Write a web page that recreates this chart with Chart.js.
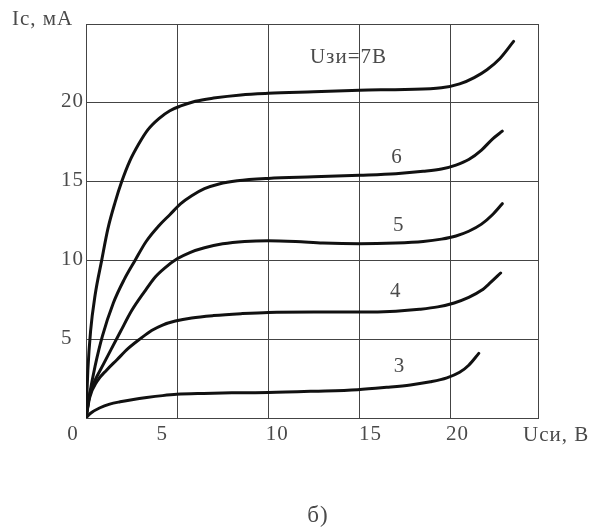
<!DOCTYPE html>
<html><head><meta charset="utf-8">
<script src="https://cdn.jsdelivr.net/npm/chart.js@4"></script>
<style>html,body{margin:0;padding:0;background:#fff}#wrap{width:591px;height:531px;position:relative}</style>
</head><body><div id="wrap"><canvas id="c" width="591" height="531"></canvas></div>
<script>
// ---- data (Uси in V, Iс in mA) ----
const x7 = [0, 0.1, 0.25, 0.5, 0.86, 1.2, 1.6, 1.96, 2.4, 2.9, 3.4, 4.0, 4.6, 5.2, 6.0, 7.0, 8.5, 10, 12.5, 15, 17.5, 19.5, 20.5, 21.3, 22, 22.7, 23.46];
const y7 = [0, 3.0, 5.5, 7.8, 10.0, 12.0, 13.7, 15.0, 16.3, 17.4, 18.3, 19.0, 19.5, 19.8, 20.1, 20.3, 20.5, 20.6, 20.7, 20.8, 20.85, 20.95, 21.2, 21.6, 22.1, 22.8, 23.9];
const x6 = [0, 0.2, 0.5, 0.9, 1.5, 2.1, 2.69, 3.3, 4.0, 4.6, 5.2, 5.8, 6.5, 7.3, 8.3, 10, 12.5, 15, 17, 18.5, 19.5, 20.3, 21, 21.7, 22.3, 22.84];
const y6 = [0, 1.5, 3.3, 5.2, 7.3, 8.8, 10.0, 11.2, 12.2, 12.9, 13.6, 14.1, 14.55, 14.85, 15.05, 15.2, 15.3, 15.4, 15.5, 15.65, 15.8, 16.05, 16.4, 17.0, 17.7, 18.2];
const x5 = [0, 0.22, 0.5, 0.95, 1.4, 1.9, 2.5, 3.2, 3.8, 4.3, 5.0, 5.7, 6.5, 7.5, 8.7, 10, 11.5, 13, 15, 17, 18.5, 19.5, 20.3, 21, 21.7, 22.3, 22.84];
const y5 = [0, 1.6, 2.4, 3.4, 4.4, 5.5, 6.8, 8.0, 8.95, 9.5, 10.1, 10.5, 10.8, 11.05, 11.2, 11.25, 11.2, 11.1, 11.05, 11.1, 11.2, 11.35, 11.55, 11.85, 12.3, 12.9, 13.6];
const x4 = [0, 0.2, 0.59, 1.14, 1.7, 2.3, 3.0, 3.6, 4.2, 4.9, 5.8, 7, 8.5, 10, 12.5, 15, 17, 18.3, 19.3, 20.2, 21, 21.7, 22.2, 22.75];
const y4 = [0, 1.3, 2.3, 3.05, 3.7, 4.4, 5.05, 5.55, 5.9, 6.15, 6.35, 6.5, 6.62, 6.7, 6.72, 6.72, 6.78, 6.9, 7.05, 7.3, 7.65, 8.1, 8.6, 9.2];
const x3 = [0, 0.25, 0.77, 1.3, 1.87, 2.6, 3.33, 4.2, 4.98, 6.45, 8, 10, 12.5, 14.9, 16.5, 17.8, 18.9, 19.8, 20.5, 21.0, 21.55];
const y3 = [0, 0.3, 0.65, 0.88, 1.03, 1.18, 1.3, 1.42, 1.5, 1.56, 1.6, 1.62, 1.7, 1.8, 1.95, 2.1, 2.3, 2.55, 2.9, 3.35, 4.1];

const xTicks = [5, 10, 15, 20];
const yTicks = [5, 10, 15, 20];
const curveLabels = ['Uзи=7В', '6', '5', '4', '3'];
const curveLabelX = [14.4, 17.07, 17.16, 17.0, 17.2];
const curveLabelY = [22.85, 16.5, 12.2, 8.0, 3.25];
const yTitle = 'Iс, мА';
const xTitle = 'Uси, В';
const caption = 'б)';

// ---- chart ----
const pts = (xs, ys) => xs.map((v, i) => ({x: v, y: ys[i]}));
const series = [[x7, y7], [x6, y6], [x5, y5], [x4, y4], [x3, y3]];
const TXT = '#4a4a4a';
const FONT = '21px "Liberation Serif"';
const xNudge = [-15, 9, 11, 7];

const textPlugin = {
  id: 'texts',
  afterDraw(chart) {
    const ctx = chart.ctx, xs = chart.scales.x, ys = chart.scales.y, a = chart.chartArea;
    ctx.save();
    ctx.fillStyle = TXT;
    ctx.font = FONT;
    try { ctx.letterSpacing = '1px'; } catch (e) {}
    ctx.textBaseline = 'middle';
    ctx.textAlign = 'center';
    xTicks.forEach((v, i) => ctx.fillText(String(v), xs.getPixelForValue(v) + xNudge[i], a.bottom + 16));
    ctx.fillText('0', a.left - 13, a.bottom + 16);
    ctx.textAlign = 'left';
    yTicks.forEach(v => ctx.fillText(String(v), a.left - 25, ys.getPixelForValue(v) - 1));
    ctx.fillText(yTitle, 12, 19);
    ctx.fillText(xTitle, a.right - 15, a.bottom + 17);
    ctx.textAlign = 'center';
    curveLabels.forEach((t, i) => ctx.fillText(t, xs.getPixelForValue(curveLabelX[i]), ys.getPixelForValue(curveLabelY[i])));
    ctx.font = '23px "Liberation Serif"';
    ctx.fillText(caption, 318, 516);
    ctx.restore();
  }
};

new Chart(document.getElementById('c'), {
  type: 'line',
  data: {
    datasets: series.map(s => ({
      data: pts(s[0], s[1]),
      borderColor: '#111',
      borderWidth: 3,
      borderJoinStyle: 'round',
      borderCapStyle: 'round',
      pointRadius: 0,
      fill: false,
      cubicInterpolationMode: 'monotone'
    }))
  },
  options: {
    responsive: false,
    animation: false,
    devicePixelRatio: 1,
    layout: {padding: {left: 86, top: 24, right: 53, bottom: 113}},
    plugins: {legend: {display: false}, tooltip: {enabled: false}},
    scales: {
      x: {
        type: 'linear', min: 0, max: 24.8,
        ticks: {display: false, stepSize: 5},
        grid: {color: '#444', lineWidth: 1, drawTicks: false},
        border: {display: true, color: '#444', width: 1}
      },
      y: {
        type: 'linear', min: 0, max: 25,
        ticks: {display: false, stepSize: 5},
        grid: {color: '#444', lineWidth: 1, drawTicks: false},
        border: {display: true, color: '#444', width: 1}
      }
    }
  },
  plugins: [textPlugin]
});
</script></body></html>
